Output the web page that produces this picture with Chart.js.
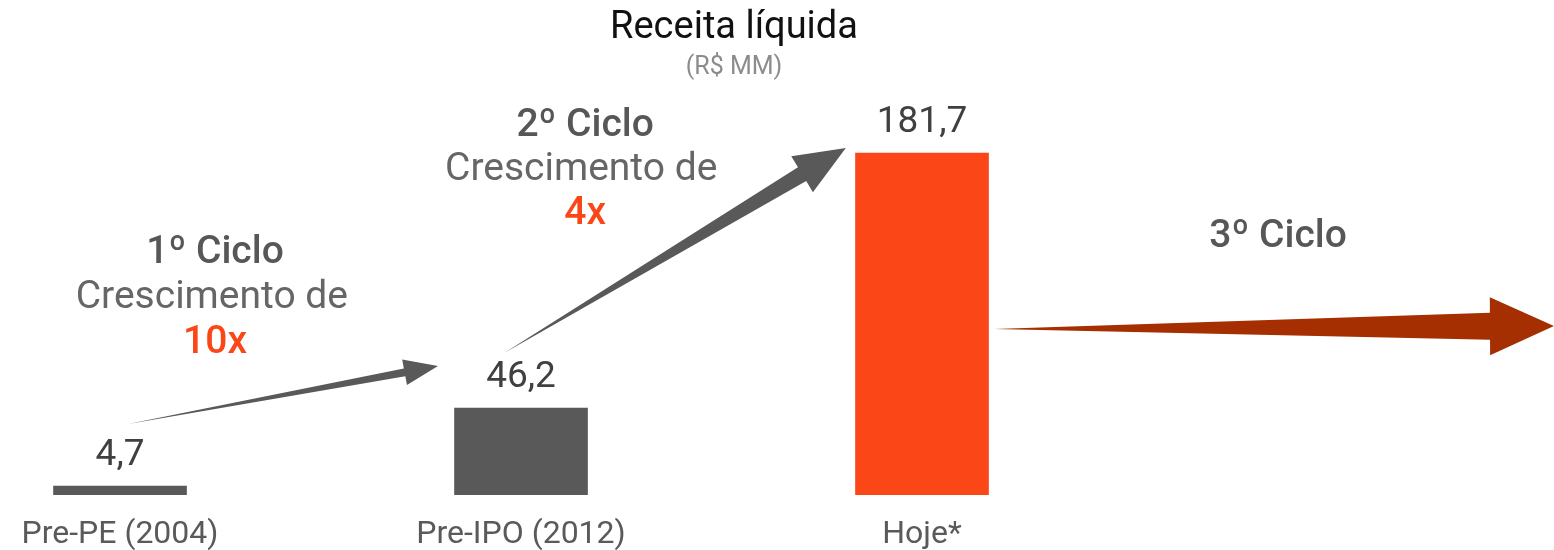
<!DOCTYPE html>
<html>
<head>
<meta charset="utf-8">
<script src="https://cdn.jsdelivr.net/npm/chart.js@4"></script>
<style>
  html, body { margin: 0; padding: 0; background: #ffffff; }
  #wrap { width: 1554px; height: 550px; position: relative; }
</style>
</head>
<body>
<div id="wrap"><canvas id="c" width="1554" height="550"></canvas></div>
<script>
// ---- data ----
const categories = ['Pre-PE (2004)', 'Pre-IPO (2012)', 'Hoje*'];
const values = [4.7, 46.2, 181.7];
const valueLabels = ['4,7', '46,2', '181,7'];
const barColors = ['#595959', '#595959', '#FB4618'];

// annotation texts (positions in data units: x = category index, y = value)
const annotations = [
  { text: '1º Ciclo',       x: 0.237, y: 128.6, weight: 500, color: '#575757' },
  { text: 'Crescimento de', x: 0.229, y: 104.7, weight: 400, color: '#666666' },
  { text: '10x',            x: 0.237, y: 80.8,  weight: 500, color: '#FB4618' },
  { text: '2º Ciclo',       x: 1.160, y: 196.1, weight: 500, color: '#575757' },
  { text: 'Crescimento de', x: 1.150, y: 172.7, weight: 400, color: '#666666' },
  { text: '4x',             x: 1.160, y: 149.3, weight: 500, color: '#FB4618' },
  { text: '3º Ciclo',       x: 2.888, y: 137.1, weight: 500, color: '#575757' }
];

// growth arrows (data units)
const arrows = [
  { x0: 0.02, y0: 37.7, x1: 0.793, y1: 68.5, shaft: 8,  headLen: 34, headHalf: 13, color: '#595959' },
  { x0: 0.958, y0: 75.5, x1: 1.81, y1: 184.4, shaft: 16, headLen: 51, headHalf: 21, color: '#595959' },
  { x0: 2.18, y0: 88.2, x1: 3.576, y1: 89.8, shaft: 27, headLen: 64, headHalf: 29, color: '#A52F00' }
];

const FONT = 'Roboto, "Open Sans", sans-serif';

const overlay = {
  id: 'overlay',
  afterDatasetsDraw(chart) {
    const ctx = chart.ctx;
    const xs = chart.scales.x, ys = chart.scales.y;
    ctx.save();
    arrows.forEach(a => {
      const px0 = xs.getPixelForValue(a.x0), py0 = ys.getPixelForValue(a.y0);
      const px1 = xs.getPixelForValue(a.x1), py1 = ys.getPixelForValue(a.y1);
      const dx = px1 - px0, dy = py1 - py0;
      const L = Math.hypot(dx, dy);
      const ux = dx / L, uy = dy / L;
      const nx = -uy, ny = ux;
      const bx = px1 - ux * a.headLen, by = py1 - uy * a.headLen;
      const s = a.shaft / 2;
      ctx.beginPath();
      ctx.moveTo(px0, py0);
      ctx.lineTo(bx + nx * s, by + ny * s);
      ctx.lineTo(bx + nx * a.headHalf, by + ny * a.headHalf);
      ctx.lineTo(px1, py1);
      ctx.lineTo(bx - nx * a.headHalf, by - ny * a.headHalf);
      ctx.lineTo(bx - nx * s, by - ny * s);
      ctx.closePath();
      ctx.fillStyle = a.color;
      ctx.fill();
    });
    const meta = chart.getDatasetMeta(0);
    ctx.font = '400 37px ' + FONT;
    ctx.fillStyle = '#404040';
    ctx.textAlign = 'center';
    ctx.textBaseline = 'alphabetic';
    meta.data.forEach((bar, i) => {
      ctx.fillText(valueLabels[i], bar.x, bar.y - 21);
    });
    ctx.textBaseline = 'middle';
    annotations.forEach(t => {
      ctx.font = t.weight + ' 39px ' + FONT;
      ctx.fillStyle = t.color;
      ctx.fillText(t.text, xs.getPixelForValue(t.x), ys.getPixelForValue(t.y));
    });
    ctx.restore();
  }
};

new Chart(document.getElementById('c'), {
  type: 'bar',
  data: {
    datasets: [{
      data: values.map((v, i) => ({ x: i, y: v })),
      backgroundColor: barColors,
      barThickness: 133,
      borderWidth: 0
    }]
  },
  options: {
    responsive: false,
    animation: false,
    layout: { padding: { left: 0, right: 86, top: 0, bottom: 0 } },
    plugins: {
      legend: { display: false },
      tooltip: { enabled: false },
      title: {
        display: true,
        fullSize: false,
        text: 'Receita líquida',
        color: '#111111',
        font: { family: FONT, size: 38, weight: 400 },
        padding: { top: 6, bottom: 0 }
      },
      subtitle: {
        display: true,
        fullSize: false,
        text: '(R$ MM)',
        color: '#8c8c8c',
        font: { family: FONT, size: 25, weight: 400 },
        padding: { top: 1, bottom: 36 }
      }
    },
    scales: {
      x: {
        type: 'linear',
        offset: false,
        min: -0.2993,
        max: 3.3616,
        grid: { display: false, drawTicks: false },
        border: { display: false },
        afterBuildTicks: (scale) => { scale.ticks = categories.map((c, i) => ({ value: i })); },
        afterFit: (scale) => { scale.height = 55; },
        ticks: {
          padding: 21,
          color: '#5a5a5a',
          font: { family: FONT, size: 32 },
          maxRotation: 0,
          autoSkip: false,
          callback: (v) => categories[v]
        }
      },
      y: {
        display: false,
        min: 0,
        max: 200
      }
    }
  },
  plugins: [overlay]
});
</script>
</body>
</html>
